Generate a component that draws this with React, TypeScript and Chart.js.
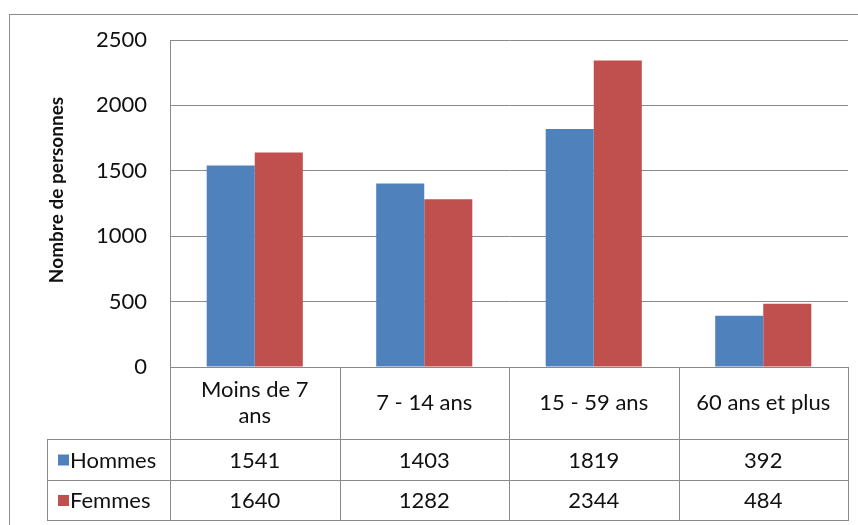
import React, { useEffect, useRef } from "react";
import { Chart, registerables } from "chart.js";

Chart.register(...registerables);

const categories: string[][] = [["Moins de 7", "ans"], ["7 - 14 ans"], ["15 - 59 ans"], ["60 ans et plus"]];
const seriesNames = ["Hommes", "Femmes"];
const hommes = [1541, 1403, 1819, 392];
const femmes = [1640, 1282, 2344, 484];
const seriesColors = ["#4F81BD", "#C0504D"];
const yTitle = "Nombre de personnes";

const FONT = "Lato, 'Open Sans', sans-serif";
const LINE = "#8a8a8a";
const TEXT = "#111111";

const tablePlugin = {
  id: "dataTable",
  afterDraw(chart: any) {
    const ctx: CanvasRenderingContext2D = chart.ctx;
    const area = chart.chartArea;
    const xs = chart.scales.x;
    const n = categories.length;
    const colW = (area.right - area.left) / n;
    const headerTop = area.bottom;
    const headerBottom = headerTop + 72;
    const rowH = [41, 40];
    const legendLeft = 47;
    ctx.save();

    // outer frame
    ctx.strokeStyle = "#8c8c8c";
    ctx.lineWidth = 1;
    ctx.strokeRect(9.5, 14.5, 1000, 1000);

    ctx.strokeStyle = LINE;
    ctx.beginPath();
    const tableBottom = headerBottom + rowH[0] + rowH[1];
    for (let i = 0; i <= n; i++) {
      const x = Math.round(area.left + i * colW) + 0.5;
      ctx.moveTo(x, headerTop);
      ctx.lineTo(x, tableBottom);
    }
    ctx.moveTo(legendLeft + 0.5, headerBottom);
    ctx.lineTo(legendLeft + 0.5, tableBottom);
    const ys = [headerBottom, headerBottom + rowH[0], tableBottom];
    ys.forEach((yy) => {
      ctx.moveTo(legendLeft, Math.round(yy) + 0.5);
      ctx.lineTo(Math.round(area.right) + 1, Math.round(yy) + 0.5);
    });
    ctx.moveTo(area.left, Math.round(headerTop) + 0.5);
    ctx.lineTo(area.right + 1, Math.round(headerTop) + 0.5);
    ctx.stroke();

    ctx.fillStyle = TEXT;
    ctx.font = `22px ${FONT}`;
    ctx.textAlign = "center";
    ctx.textBaseline = "middle";
    const headerMid = (headerTop + headerBottom) / 2;
    categories.forEach((lines, i) => {
      const cx = xs.getPixelForValue(i);
      const lh = 26;
      lines.forEach((t, j) => {
        const ty = headerMid + (j - (lines.length - 1) / 2) * lh;
        ctx.fillText(t, cx, ty);
      });
    });

    const data = [hommes, femmes];
    let top = headerBottom;
    data.forEach((vals, r) => {
      const mid = top + rowH[r] / 2;
      vals.forEach((v, i) => {
        ctx.fillStyle = TEXT;
        ctx.textAlign = "center";
        ctx.fillText(String(v), xs.getPixelForValue(i), mid + 1);
      });
      ctx.fillStyle = seriesColors[r];
      ctx.fillRect(58, mid - 5, 11, 11);
      ctx.fillStyle = TEXT;
      ctx.textAlign = "left";
      ctx.fillText(seriesNames[r], 70, mid + 1);
      top += rowH[r];
    });

    // y title
    ctx.save();
    ctx.translate(57, 190);
    ctx.rotate(-Math.PI / 2);
    ctx.font = `bold 19px ${FONT}`;
    ctx.fillStyle = TEXT;
    ctx.textAlign = "center";
    ctx.textBaseline = "middle";
    ctx.fillText(yTitle, 0, 0);
    ctx.restore();

    ctx.restore();
  },
};

export default function App() {
  const ref = useRef<HTMLCanvasElement | null>(null);
  useEffect(() => {
    if (!ref.current) return;
    const chart = new Chart(ref.current, {
      type: "bar",
      data: {
        labels: categories.map((c) => c.join(" ")),
        datasets: [
          { label: seriesNames[0], data: hommes, backgroundColor: seriesColors[0], categoryPercentage: 0.567, barPercentage: 1 },
          { label: seriesNames[1], data: femmes, backgroundColor: seriesColors[1], categoryPercentage: 0.567, barPercentage: 1 },
        ],
      },
      options: {
        animation: false,
        responsive: false,
        devicePixelRatio: 1,
        layout: { padding: { top: 40, right: 10, left: 0, bottom: 0 } },
        plugins: { legend: { display: false }, tooltip: { enabled: false } },
        scales: {
          x: {
            ticks: { display: false },
            grid: { display: false },
            border: { display: false },
            afterFit: (s: any) => { s.height = 158; },
          },
          y: {
            min: 0,
            max: 2500,
            ticks: {
              stepSize: 500,
              padding: 23,
              color: TEXT,
              font: { family: FONT, size: 22 },
              callback: (v: any) => String(v),
            },
            grid: { color: LINE, drawTicks: false },
            border: { display: true, color: LINE },
            afterFit: (s: any) => { s.width = 170; },
          },
        },
      },
      plugins: [tablePlugin],
    });
    return () => chart.destroy();
  }, []);
  return (
    <div style={{ position: "absolute", left: 0, top: 0, width: 858, height: 525, background: "#fff" }}>
      <canvas ref={ref} width={858} height={525} />
    </div>
  );
}
